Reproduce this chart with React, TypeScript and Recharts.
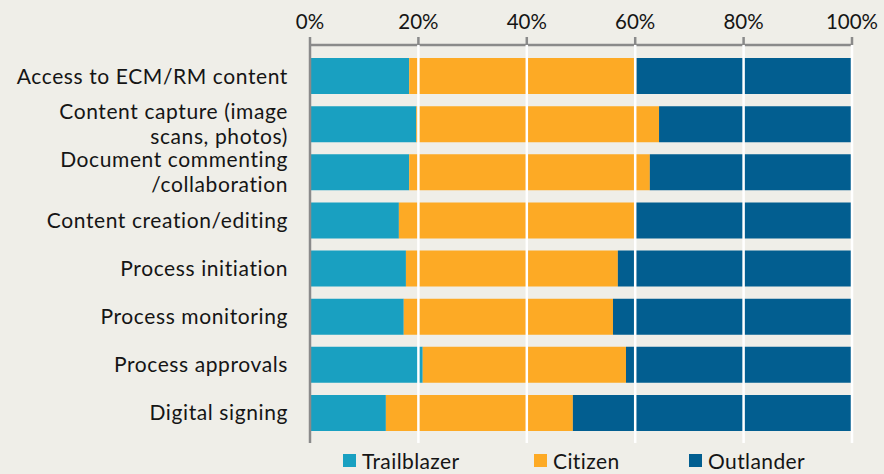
import React from "react";
import {
  BarChart,
  Bar,
  XAxis,
  YAxis,
  ReferenceLine,
  Legend,
} from "recharts";

// categories, top to bottom ("\n" = line break in the label)
const categories = [
  "Access to ECM/RM content",
  "Content capture (image\nscans, photos)",
  "Document commenting\n/collaboration",
  "Content creation/editing",
  "Process initiation",
  "Process monitoring",
  "Process approvals",
  "Digital signing",
];

// share of respondents, in %
const trailblazer = [18.3, 19.6, 18.3, 16.4, 17.7, 17.3, 20.8, 14.0];
const citizen = [41.9, 44.8, 44.4, 43.7, 39.1, 38.6, 37.5, 34.5];
const outlander = [39.8, 35.6, 37.3, 39.9, 43.2, 44.1, 41.7, 51.5];

const xTicks = [0, 20, 40, 60, 80, 100];

const seriesNames = ["Trailblazer", "Citizen", "Outlander"];
const COLORS = ["#19a0c1", "#fdaa25", "#025e90"];
const legendLefts = [343, 534, 689];

const FONT = "Lato, 'Open Sans', sans-serif";
const BG = "#efeee8";
const AXIS = "#8a8a8a";
const INK = "#151515";

const data = categories.map((name, i) => ({
  name,
  trailblazer: trailblazer[i],
  citizen: citizen[i],
  outlander: outlander[i],
}));

const CategoryTick = (props: any) => {
  const { x, y, payload } = props;
  const lines = String(payload.value).split("\n");
  const lh = 25;
  const startY = y - ((lines.length - 1) * lh) / 2;
  return (
    <text
      x={x}
      y={startY}
      textAnchor="end"
      fontSize={21}
      letterSpacing={0.6}
      fontFamily={FONT}
      fill={INK}
    >
      {lines.map((l, i) => (
        <tspan key={i} x={x} y={startY + i * lh} dy="0.36em">
          {l}
        </tspan>
      ))}
    </text>
  );
};

const LegendContent = () => (
  <div
    style={{
      position: "relative",
      height: 31,
      fontFamily: FONT,
      fontSize: 21,
      letterSpacing: 0.4,
      lineHeight: "25px",
      color: INK,
    }}
  >
    {seriesNames.map((s, i) => (
      <div
        key={s}
        style={{
          position: "absolute",
          left: legendLefts[i],
          top: 5,
          height: 25,
          display: "flex",
          alignItems: "center",
          whiteSpace: "nowrap",
        }}
      >
        <span
          style={{
            width: 13,
            height: 13,
            background: COLORS[i],
            display: "inline-block",
            marginRight: 6,
          }}
        />
        {s}
      </div>
    ))}
  </div>
);

export default function App() {
  return (
    <div
      style={{
        position: "absolute",
        left: 0,
        top: 0,
        width: 884,
        height: 474,
        background: BG,
        overflow: "hidden",
        fontFamily: FONT,
      }}
    >
      <BarChart
        width={884}
        height={474}
        data={data}
        layout="vertical"
        margin={{ top: 0, right: 32, left: 0, bottom: 0 }}
        barSize={36}
      >
        <XAxis
          type="number"
          orientation="top"
          domain={[0, 100]}
          ticks={xTicks}
          tickFormatter={(v) => `${v}%`}
          height={45}
          axisLine={{ stroke: AXIS, strokeWidth: 2.5 }}
          tickLine={{ stroke: AXIS, strokeWidth: 2.5 }}
          tickSize={8}
          tickMargin={8}
          tick={{ fontSize: 20.5, fill: INK, fontFamily: FONT }}
          interval={0}
        />
        <YAxis
          type="category"
          dataKey="name"
          width={310}
          padding={{ top: 7, bottom: 6 }}
          axisLine={{ stroke: AXIS, strokeWidth: 2.5 }}
          tickLine={false}
          tickSize={0}
          tickMargin={22}
          tick={<CategoryTick />}
          interval={0}
        />
        <Bar
          dataKey="trailblazer"
          name={seriesNames[0]}
          stackId="a"
          fill={COLORS[0]}
          isAnimationActive={false}
        />
        <Bar
          dataKey="citizen"
          name={seriesNames[1]}
          stackId="a"
          fill={COLORS[1]}
          isAnimationActive={false}
        />
        <Bar
          dataKey="outlander"
          name={seriesNames[2]}
          stackId="a"
          fill={COLORS[2]}
          isAnimationActive={false}
        />
        {xTicks.slice(1).map((t) => (
          <ReferenceLine
            key={t}
            x={t}
            stroke="#ffffff"
            strokeWidth={2.5}
            zIndex={1000}
          />
        ))}
        <Legend verticalAlign="bottom" content={<LegendContent />} />
      </BarChart>
    </div>
  );
}
